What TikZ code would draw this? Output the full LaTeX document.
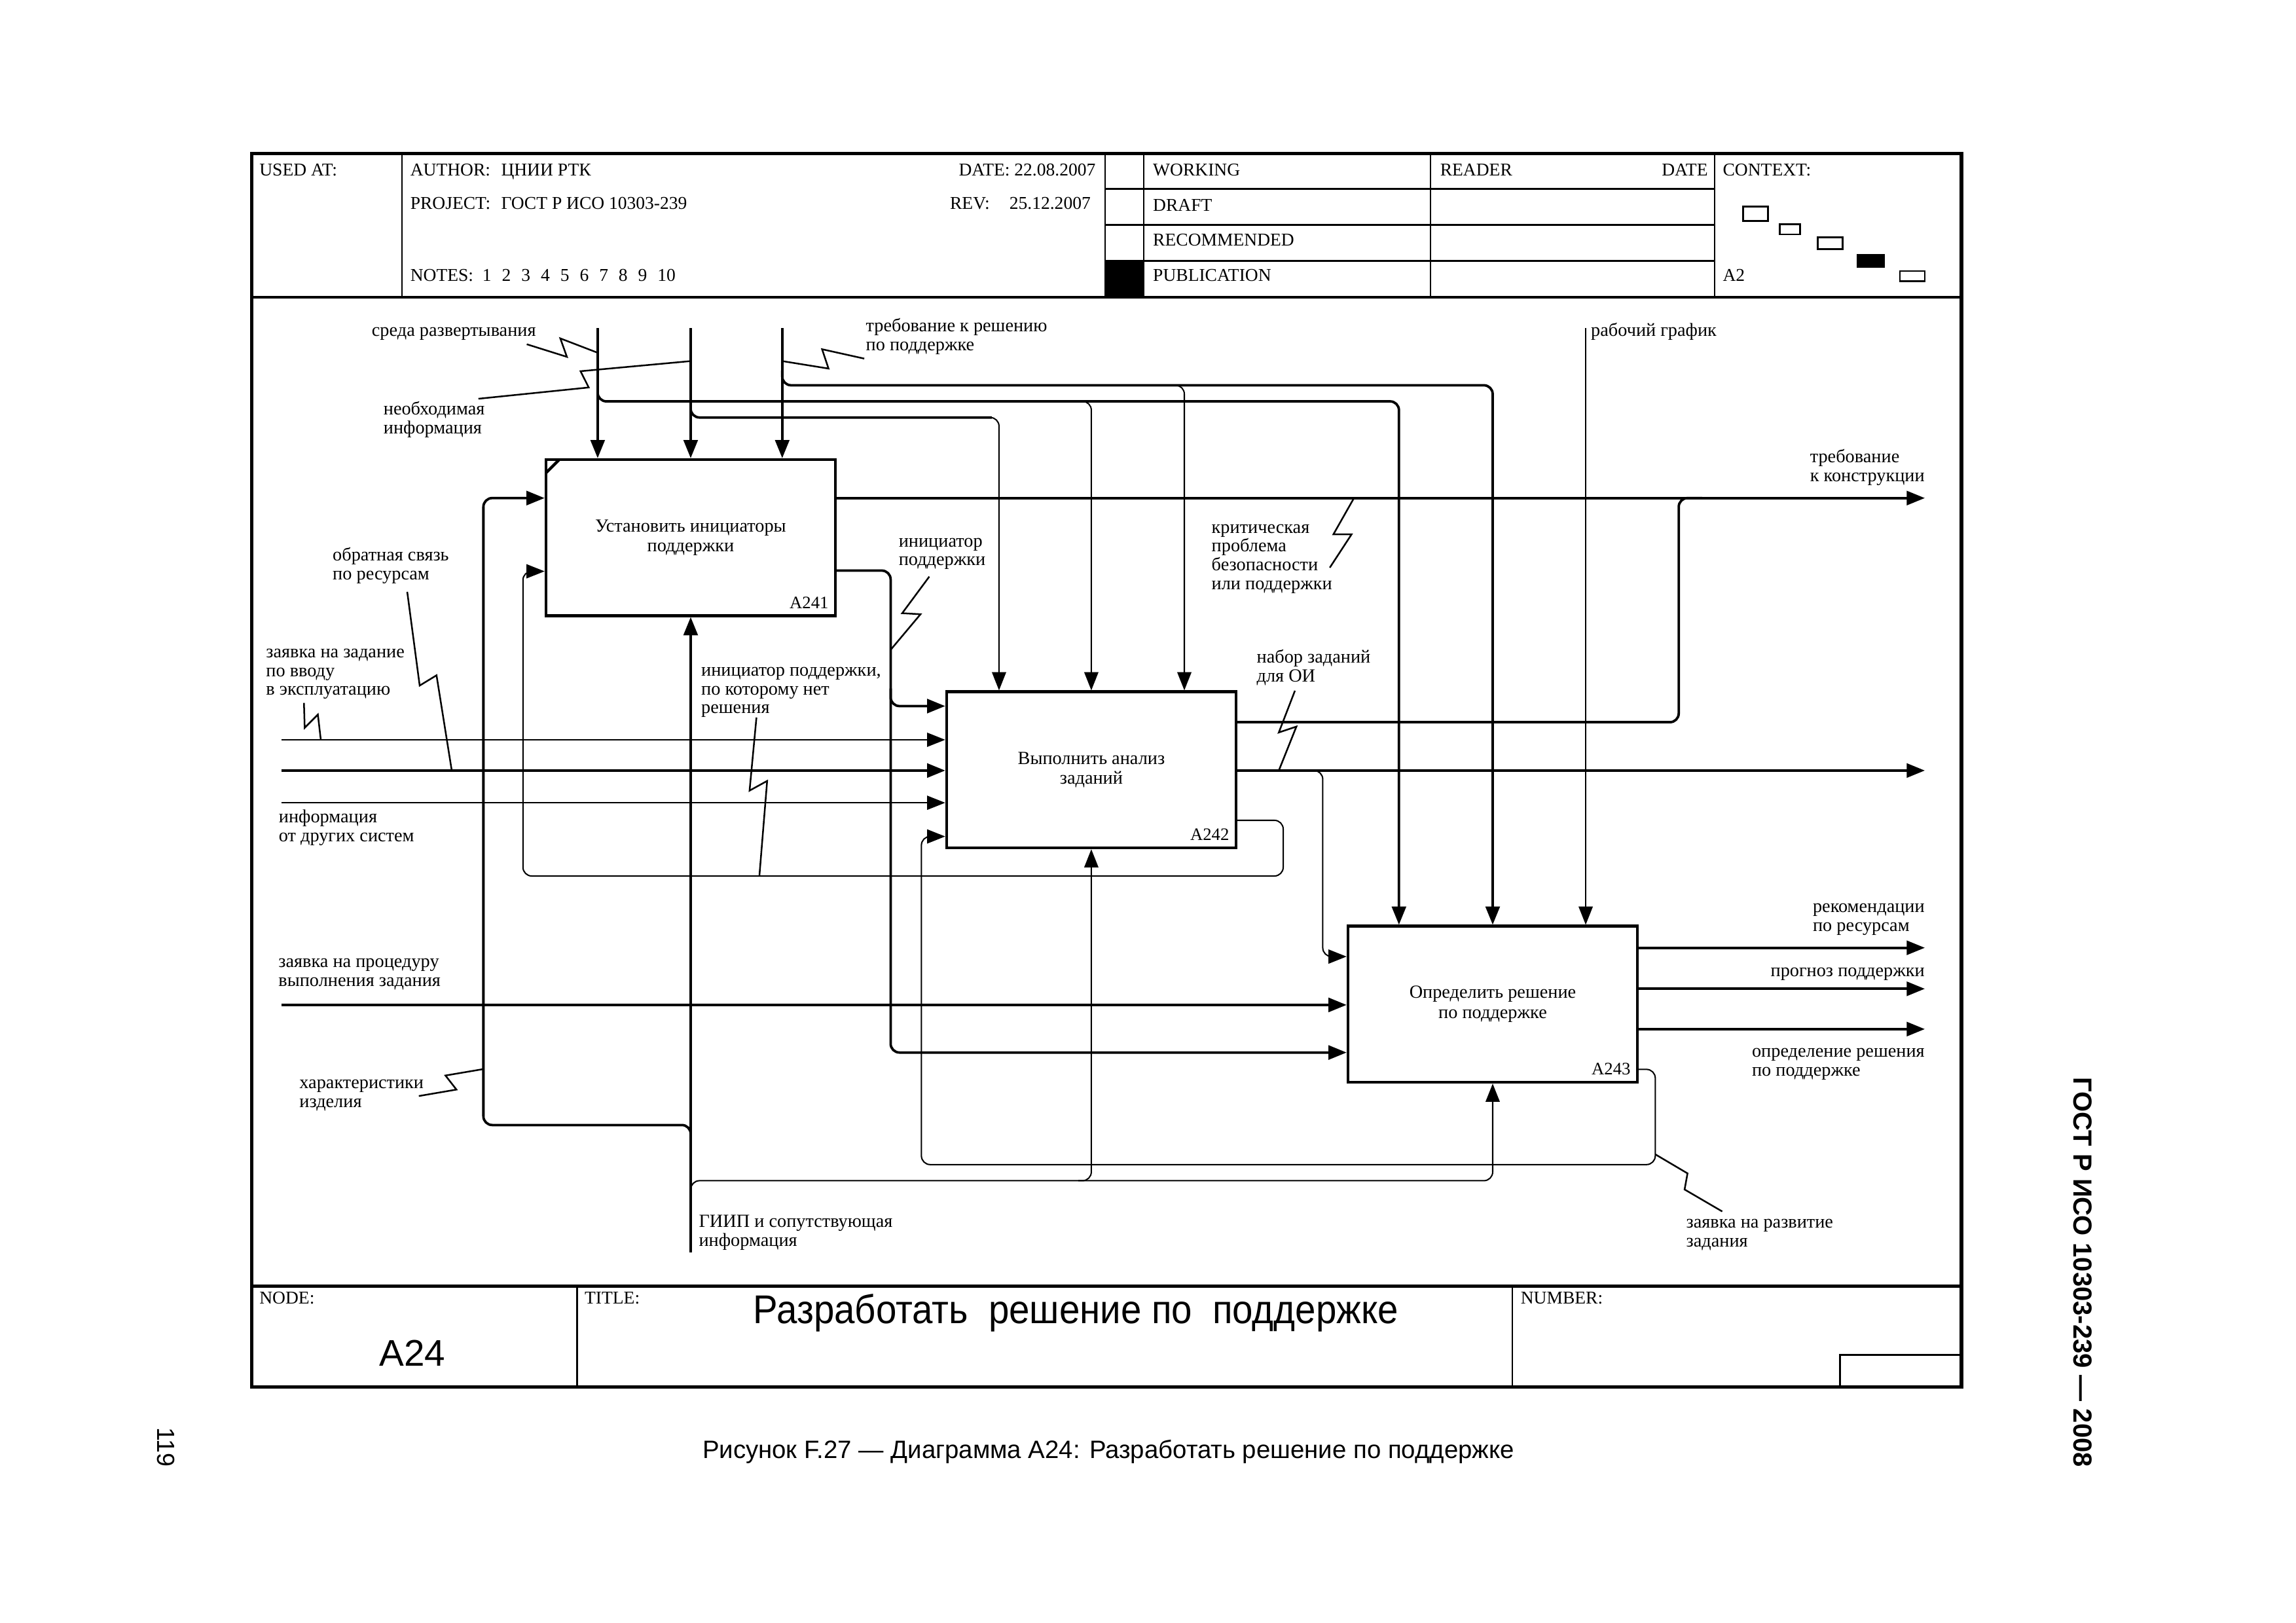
\documentclass[tikz,border=0pt]{standalone}
\usepackage{fontspec}
\setmainfont{Liberation Serif}
\newfontfamily\sansf{Liberation Sans}
\usetikzlibrary{arrows.meta,calc}
\newcommand\MLl[1]{\begin{tabular}[t]{@{}l@{}}#1\end{tabular}}
\newcommand\lbfont{\fontsize{18}{18.3}\selectfont}
\newcommand\hdfont{\fontsize{17.5}{18}\selectfont}
\newcommand\bxfont{\fontsize{18}{19.5}\selectfont}
\tikzset{
  frameline/.style={line width=3.2pt},
  sepline/.style={line width=2.6pt},
  gridline/.style={line width=1.6pt},
  fbox/.style={draw, line width=2.8pt, minimum width=98.75mm, minimum height=53.25mm,
    inner sep=0pt, align=center, font=\bxfont},
  tip/.style={-{Triangle[length=6.2mm,width=4.8mm]}},
  tarrow/.style={line width=2.4pt, tip, rounded corners=3mm},
  narrow/.style={line width=1.3pt, tip, rounded corners=3mm},
  tline/.style={line width=2.4pt, rounded corners=3mm},
  squig/.style={line width=1.6pt},
  lab/.style={inner sep=0pt, font=\lbfont, anchor=base west},
  hdr/.style={inner sep=0pt, font=\hdfont, anchor=base west},
  bnum/.style={inner sep=0pt, font=\fontsize{17}{18}\selectfont, anchor=base east},
  ctx/.style={line width=1.8pt},
}
\begin{document}
\begin{tikzpicture}[x=0.5mm, y=-0.5mm]
\useasboundingbox (0,0) rectangle (1567.4,1107.9);

% ---------- frame and header ----------
\draw[frameline] (172,105) rectangle (1339,947);
\draw[sepline] (172,203) -- (1339,203);
\draw[sepline] (172,878) -- (1339,878);
\draw[gridline] (274.5,105) -- (274.5,203);
\draw[gridline] (754.5,105) -- (754.5,203);
\draw[gridline] (780.7,105) -- (780.7,203);
\draw[gridline] (976.6,105) -- (976.6,203);
\draw[gridline] (1170.5,105) -- (1170.5,203);
\draw[gridline] (754.5,129) -- (1170.5,129);
\draw[gridline] (754.5,153.5) -- (1170.5,153.5);
\draw[gridline] (754.5,178) -- (1170.5,178);
\fill (754.5,178) rectangle (780.7,203);
\draw[gridline] (394,878) -- (394,947);
\draw[gridline] (1032.5,878) -- (1032.5,947);
\draw[gridline] (1256,947) -- (1256,925) -- (1339,925);

\node[hdr] (usedat) at (177,120) {USED AT:};
\node[hdr] (author) at (280,120) {\makebox[31mm][l]{AUTHOR:}ЦНИИ РТК};
\node[hdr, anchor=base east] (date1) at (748,120) {DATE: 22.08.2007};
\node[hdr] (project) at (280,143) {\makebox[31mm][l]{PROJECT:}ГОСТ Р ИСО 10303-239};
\node[hdr] (rev) at (648.4,143) {\makebox[20.3mm][l]{REV:}25.12.2007};
\node[hdr] (notes) at (280,192) {NOTES:\ \ 1\hspace{0.58em}2\hspace{0.58em}3\hspace{0.58em}4\hspace{0.58em}5\hspace{0.58em}6\hspace{0.58em}7\hspace{0.58em}8\hspace{0.58em}9\hspace{0.58em}10};
\node[hdr] (working) at (787,120) {WORKING};
\node[hdr] (draft) at (787,144) {DRAFT};
\node[hdr] (recom) at (787,168) {RECOMMENDED};
\node[hdr] (publ) at (787,192) {PUBLICATION};
\node[hdr] (reader) at (983,120) {READER};
\node[hdr, anchor=base east] (date2) at (1166,120) {DATE};
\node[hdr] (context) at (1176,120) {CONTEXT:};
\node[hdr] (ctxa2) at (1176,192) {A2};
\draw[ctx] (1190,141) rectangle (1207,151);
\draw[ctx] (1215,153) rectangle (1229,160);
\draw[ctx] (1241,162) rectangle (1258,170);
\filldraw[ctx] (1268,174) rectangle (1286,182);
\draw[ctx] (1297,185) rectangle (1314,192);

% ---------- title block ----------
\node[hdr] (nodel) at (177,890) {NODE:};
\node[hdr] (titlel) at (399,890) {TITLE:};
\node[hdr] (numberl) at (1038,890) {NUMBER:};
\node[font=\sansf\fontsize{36}{40}\selectfont, anchor=base, inner sep=0pt] (a24) at (281.5,932.6) {A24};
\node[font=\sansf\fontsize{39}{44}\selectfont, anchor=base, inner sep=0pt] (title) at (734.5,903.6)
  {\scalebox{0.92}[1]{Разработать\hspace{0.55em}решение по\hspace{0.55em}поддержке}};
\node[font=\sansf\fontsize{24.4}{28}\selectfont, anchor=base, inner sep=0pt] (caption) at (756.7,995.5)
  {Рисунок F.27 — Диаграмма A24: Разработать решение по поддержке};
\node[font=\sansf\bfseries\fontsize{25.4}{28}\selectfont, rotate=-90, inner sep=0pt] (gost) at (1422,868.5)
  {ГОСТ Р ИСО 10303-239 — 2008};
\node[font=\sansf\fontsize{24}{28}\selectfont, rotate=-90, inner sep=0pt] (page) at (113.5,988) {119};

% ---------- activity boxes ----------
\node[fbox] (A241) at (471.5,367) {Установить инициаторы\\поддержки};
\node[fbox] (A242) at (745,525.5) {Выполнить анализ\\заданий};
\node[fbox] (A243) at (1019,685.5) {Определить решение\\по поддержке};
\node[bnum] (n241) at ($(A241.south east)+(-5.5,-6)$) {A241};
\node[bnum] (n242) at ($(A242.south east)+(-5.5,-6)$) {A242};
\node[bnum] (n243) at ($(A243.south east)+(-5.5,-6)$) {A243};
\draw[line width=2.8pt] ($(A241.north west)+(1,10)$) -- ($(A241.north west)+(10,1)$);

% ---------- coordinates ----------
\coordinate (c1) at (408,224);
\coordinate (c2) at (471.5,224);
\coordinate (c3) at (534,224);
\coordinate (c4) at (1082.5,224);
\coordinate (j1) at (408,264);   \coordinate (k1) at (955,274);   \coordinate (j1b) at (735,274);
\coordinate (j2) at (471.5,275); \coordinate (k2) at (677,285);   \coordinate (k2b) at (671,285); \coordinate (t2) at (682,285);
\coordinate (j3) at (534,253);   \coordinate (k3) at (1019,263);  \coordinate (j3b) at (799,263); \coordinate (t3) at (808.5,263);
\coordinate (o1) at (1314,340);
\coordinate (o2) at (1314,526);
\coordinate (o3) at (1314,647);
\coordinate (o4) at (1314,675);
\coordinate (o5) at (1314,702.5);
\coordinate (m0) at (1146,493);  \coordinate (m1) at (1162,340);
\coordinate (p1) at (608,389.5); \coordinate (v1) at (608,482);
\coordinate (v2s) at (608,470);  \coordinate (v2) at (608,718.5);
\coordinate (w0) at (892,526);   \coordinate (w1) at (903,653);
\coordinate (f0) at (876,560);   \coordinate (f1) at (357,598);   \coordinate (f2) at (357,390);
\coordinate (g0) at (1130,730);  \coordinate (g1) at (629,795);   \coordinate (g2) at (629,571);
\coordinate (in1) at (192,505);
\coordinate (in2) at (192,526);
\coordinate (in3) at (192,548);
\coordinate (in4) at (192,686);
\coordinate (mech) at (471.5,855);
\coordinate (h0) at (471.5,778); \coordinate (h1) at (330,768);   \coordinate (h2) at (330,340);
\coordinate (r0) at (471.5,816); \coordinate (r1) at (1019,806);  \coordinate (r2) at (736,806);

% ---------- controls ----------
\draw[tarrow] (c1) -- (c1 |- A241.north);
\draw[tarrow] (c2) -- (A241.north);
\draw[tarrow] (c3) -- (c3 |- A241.north);
\draw[narrow] (c4) -- (c4 |- A243.north);
\draw[tarrow] (j1) |- (k1) -- (k1 |- A243.north);
\draw[narrow] (j1b) -| (A242.north);
\draw[tline] (j2) |- (k2);
\draw[narrow] (k2b) -| (t2 |- A242.north);
\draw[tarrow] (j3) |- (k3) -- (k3 |- A243.north);
\draw[narrow] (j3b) -| (t3 |- A242.north);

% ---------- inputs ----------
\draw[narrow] (in1) -- (in1 -| A242.west);
\draw[tarrow] (in2) -- (in2 -| A242.west);
\draw[narrow] (in3) -- (in3 -| A242.west);
\draw[tarrow] (in4) -- (in4 -| A243.west);

% ---------- outputs ----------
\draw[tarrow] (o1 -| A241.east) -- (o1);
\draw[tarrow] (o2 -| A242.east) -- (o2);
\draw[tarrow] (o3 -| A243.east) -- (o3);
\draw[tarrow] (o4 -| A243.east) -- (o4);
\draw[tarrow] (o5 -| A243.east) -- (o5);
\draw[tline] (m0 -| A242.east) -- (m0) |- (m1);
\draw[tarrow] (p1 -| A241.east) -- (p1) |- (v1 -| A242.west);
\draw[tarrow] (v2s) |- (v2 -| A243.west);
\draw[narrow] (w0) -| (w1) -- (w1 -| A243.west);
\draw[narrow] (f0 -| A242.east) -- (f0) |- (f1) |- (f2 -| A241.west);
\draw[narrow] (g0 -| A243.east) -- (g0) |- (g1) |- (g2 -| A242.west);

% ---------- mechanisms ----------
\draw[tarrow] (mech) -- (A241.south);
\draw[tarrow] (h0) |- (h1) |- (h2 -| A241.west);
\draw[narrow] (r0) |- (r1) -- (A243.south);
\draw[narrow] (r2) -| (A242.south);

% ---------- squiggles ----------
\draw[squig] (359.6,235) -- (387,243.6) -- (382.5,231) -- (408,240.8);
\draw[squig] (326.6,272.2) -- (401.9,264.5) -- (396.3,253.4) -- (471.5,246.5);
\draw[squig] (534,246.5) -- (565.6,251.6) -- (561.2,238.4) -- (590,244.8);
\draw[squig] (924.3,340) -- (910.3,364.7) -- (922.7,364.7) -- (907.8,387.5);
\draw[squig] (634.4,393.6) -- (615.9,418.6) -- (628.4,419.3) -- (608,443.6);
\draw[squig] (207.5,479.8) -- (208,496.8) -- (217,487.8) -- (219,505);
\draw[squig] (278,404) -- (286.5,468) -- (298,461) -- (308.4,526);
\draw[squig] (516.4,489.8) -- (511.7,539.7) -- (523.7,533.1) -- (518.4,598);
\draw[squig] (884,471.5) -- (873,500) -- (885,496) -- (873,526);
\draw[squig] (285.9,748.2) -- (311.6,743.8) -- (304.1,734.2) -- (330,729.8);
\draw[squig] (1130,788) -- (1152,801) -- (1150,812) -- (1175.7,827);

% ---------- labels ----------
\node[lab, anchor=base east] (Lsreda) at (366,229.7) {среда развертывания};
\node[lab] (Lneob) at (261.7,283.3) {\MLl{необходимая\\информация}};
\node[lab] (Ltreb) at (591,226.4) {\MLl{требование к решению\\по поддержке}};
\node[lab] (Lgraf) at (1086,229.5) {рабочий график};
\node[lab, anchor=base east] (Lkonstr) at (1314,315.9) {\MLl{требование\\к конструкции}};
\node[lab] (Lobr) at (227,382.9) {\MLl{обратная связь\\по ресурсам}};
\node[lab] (Linic) at (613.4,373.2) {\MLl{инициатор\\поддержки}};
\node[lab] (Lkrit) at (827,363.8) {\MLl{критическая\\проблема\\безопасности\\или поддержки}};
\node[lab] (Lzayav) at (181.5,448.9) {\MLl{заявка на задание\\по вводу\\в эксплуатацию}};
\node[lab] (Linic2) at (478.6,461.4) {\MLl{инициатор поддержки,\\по которому нет\\решения}};
\node[lab] (Lnabor) at (857.8,452.4) {\MLl{набор заданий\\для ОИ}};
\node[lab] (Linfo) at (190.2,561.5) {\MLl{информация\\от других систем}};
\node[lab, anchor=base east] (Lrekom) at (1314,622.7) {\MLl{рекомендации\\по ресурсам}};
\node[lab, anchor=base east] (Lprog) at (1314,666.6) {прогноз поддержки};
\node[lab] (Lproc) at (190,660.4) {\MLl{заявка на процедуру\\выполнения задания}};
\node[lab, anchor=base east] (Lopr) at (1314,721.7) {\MLl{определение решения\\по поддержке}};
\node[lab] (Lhar) at (204.3,742.9) {\MLl{характеристики\\изделия}};
\node[lab] (Lrazv) at (1151,838.2) {\MLl{заявка на развитие\\задания}};
\node[lab] (Lgiip) at (477,837.9) {\MLl{ГИИП и сопутствующая\\информация}};
\end{tikzpicture}
\end{document}
